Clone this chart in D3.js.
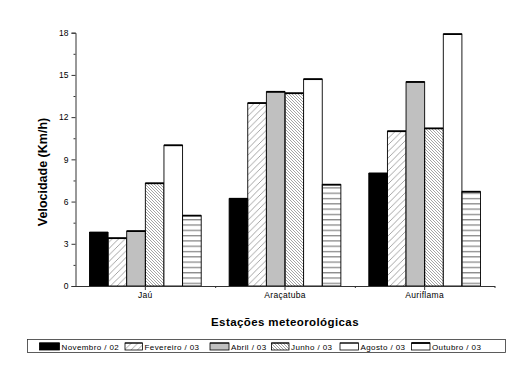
<!DOCTYPE html>
<html><head><meta charset="utf-8">
<script src="https://cdn.jsdelivr.net/npm/d3@7"></script>
<style>body{margin:0;background:#fff}svg{display:block;font-family:Arial,"Liberation Sans",sans-serif}</style>
</head><body><svg id="c" width="530" height="378"></svg>
<script>
const categories = ["Jaú", "Araçatuba", "Auriflama"];
const seriesNames = ["Novembro / 02", "Fevereiro / 03", "Abril / 03", "Junho / 03", "Agosto / 03", "Outubro / 03"];
const novembro = [3.8, 6.2, 8.0];
const fevereiro = [3.4, 13.0, 11.0];
const abril = [3.9, 13.8, 14.5];
const junho = [7.3, 13.7, 11.2];
const agosto = [10.0, 14.7, 17.9];
const outubro = [5.0, 7.2, 6.7];
const yTicks = [0, 3, 6, 9, 12, 15, 18];
const series = [novembro, fevereiro, abril, junho, agosto, outubro];

const svg = d3.select("#c");
const defs = svg.append("defs");
// patterns
const p1 = defs.append("pattern").attr("id","pFev").attr("patternUnits","userSpaceOnUse").attr("width",6.5).attr("height",6.5);
p1.append("path").attr("d","M-1,7.5 L7.5,-1 M-1,1 L1,-1 M5.5,7.5 L7.5,5.5").attr("stroke","#666").attr("stroke-width",0.6);
const p2 = defs.append("pattern").attr("id","pJun").attr("patternUnits","userSpaceOnUse").attr("width",3).attr("height",3);
p2.append("path").attr("d","M-1,-1 L4,4 M-1,2 L1,4 M2,-1 L4,1").attr("stroke","#666").attr("stroke-width",0.6);
const p3 = defs.append("pattern").attr("id","pOut").attr("patternUnits","userSpaceOnUse").attr("width",6).attr("height",5.3);
p3.append("line").attr("x1",0).attr("x2",6).attr("y1",2.5).attr("y2",2.5).attr("stroke","#555").attr("stroke-width",0.9);

const fills = ["#000", "url(#pFev)", "#c0c0c0", "url(#pJun)", "#fff", "url(#pOut)"];
const legendFills = ["#000", "url(#pFev)", "#c0c0c0", "url(#pJun)", "#fff", "#fff"];

const x0 = d3.scaleBand().domain(categories).range([75.5, 494.5]).paddingInner(0).paddingOuter(0);
const x1 = d3.scaleBand().domain(d3.range(6)).range([0, x0.bandwidth()*0.8]);
const y = d3.scaleLinear().domain([0, 18]).range([286, 32.7]);

// bars
const g = svg.append("g");
categories.forEach((c, ci) => {
  const off = x0(c) + x0.bandwidth()*0.1;
  series.forEach((s, si) => {
    const xx = off + x1(si), w = x1.bandwidth(), top = y(s[ci]);
    g.append("rect").attr("x", xx).attr("y", top).attr("width", w).attr("height", y(0)-top)
      .attr("fill", fills[si]).attr("stroke", "#000").attr("stroke-width", 0.9);
    g.append("line").attr("x1", xx).attr("x2", xx+w).attr("y1", top).attr("y2", top)
      .attr("stroke", "#000").attr("stroke-width", 1.8);
  });
});

// y axis
const yAxis = svg.append("g").attr("transform","translate(75.5,0)")
  .call(d3.axisLeft(y).tickValues(yTicks).tickSize(4).tickPadding(3).tickFormat(d3.format("d")));
svg.append("g").attr("transform","translate(75.5,0)")
  .call(d3.axisLeft(y).tickValues(d3.range(1.5, 18, 3)).tickSize(2).tickFormat(""))
  .call(a => a.select(".domain").remove());
svg.selectAll(".tick line, .domain").attr("stroke","#333");
yAxis.selectAll("text").attr("font-size", 8.5).attr("fill","#000");

// x axis
const xAxis = svg.append("g").attr("transform","translate(0,286)")
  .call(d3.axisBottom(x0).tickSize(4).tickPadding(2).tickSizeOuter(0));
xAxis.select(".domain").attr("stroke","#333");
xAxis.selectAll(".tick line").attr("stroke","#333");
xAxis.selectAll("text").attr("font-size", 8.5).attr("fill","#000").attr("letter-spacing",0.3);
svg.append("g").attr("transform","translate(0,286)")
  .call(d3.axisBottom(d3.scaleLinear().domain([0,3]).range([75.5,494.5])).tickValues([1,2,3]).tickSize(2).tickFormat(""))
  .call(a => a.select(".domain").remove())
  .selectAll("line").attr("stroke","#333");

// axis titles
svg.append("text").attr("transform","translate(47,172) rotate(-90)").attr("text-anchor","middle")
  .attr("font-size", 12.5).attr("font-weight","bold").text("Velocidade (Km/h)");
svg.append("text").attr("x", 285).attr("y", 326).attr("text-anchor","middle")
  .attr("font-size", 11.5).attr("font-weight","bold").attr("letter-spacing", 0.4).text("Estações meteorológicas");

// legend
const lg = svg.append("g");
lg.append("rect").attr("x",27.5).attr("y",339.5).attr("width",478).attr("height",13).attr("fill","#fff").attr("stroke","#333").attr("stroke-width",0.8);
const swX = [39.5, 125, 210, 271.5, 340, 411.5];
const swW = [20, 17.5, 19, 17.5, 18.5, 18.5];
seriesNames.forEach((n, i) => {
  lg.append("rect").attr("x", swX[i]).attr("y", 343).attr("width", swW[i]).attr("height", 7)
    .attr("fill", legendFills[i]).attr("stroke","#000").attr("stroke-width",0.8);
  lg.append("line").attr("x1", swX[i]).attr("x2", swX[i]+swW[i]).attr("y1",343).attr("y2",343)
    .attr("stroke","#000").attr("stroke-width", i===5 ? 1.8 : 1);
  lg.append("text").attr("x", swX[i]+swW[i]+2).attr("y", 349.5).attr("font-size", 8).attr("letter-spacing",0.4).text(n);
});
</script></body></html>
